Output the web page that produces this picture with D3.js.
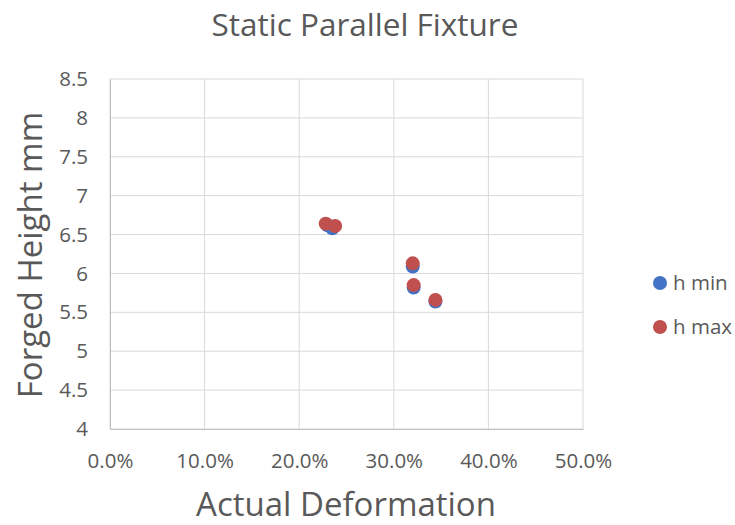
<!DOCTYPE html>
<html>
<head>
<meta charset="utf-8">
<script src="https://cdn.jsdelivr.net/npm/d3@7"></script>
<style>
  body { margin: 0; background: #fff; }
  text { font-family: "Open Sans", "Noto Sans", sans-serif; fill: #595959; }
</style>
</head>
<body>
<svg id="chart" width="735" height="525"></svg>
<script>
// Series values: deformation (fraction) and forged height (mm)
const hMinX = [0.230, 0.235, 0.320, 0.321, 0.344];
const hMinY = [6.62, 6.58, 6.09, 5.82, 5.64];
const hMaxX = [0.228, 0.238, 0.320, 0.321, 0.344];
const hMaxY = [6.64, 6.61, 6.13, 5.85, 5.66];
const seriesNames = ["h min", "h max"];
const seriesColors = ["#4472C4", "#C0504D"];
const xTicks = [0, 0.1, 0.2, 0.3, 0.4, 0.5];
const yTicks = [4, 4.5, 5, 5.5, 6, 6.5, 7, 7.5, 8, 8.5];

const svg = d3.select("#chart");
const m = { left: 110, right: 583, top: 79, bottom: 429 };

const x = d3.scaleLinear().domain([0, 0.5]).range([m.left, m.right]);
const y = d3.scaleLinear().domain([4, 8.5]).range([m.bottom, m.top]);

// Gridlines
svg.append("g").selectAll("line").data(yTicks).join("line")
  .attr("x1", m.left).attr("x2", m.right)
  .attr("y1", d => y(d)).attr("y2", d => y(d))
  .attr("stroke", "#d9d9d9").attr("stroke-width", 1);
svg.append("g").selectAll("line").data(xTicks).join("line")
  .attr("y1", m.top).attr("y2", m.bottom)
  .attr("x1", d => x(d)).attr("x2", d => x(d))
  .attr("stroke", "#d9d9d9").attr("stroke-width", 1);

// Axes
const xAxis = d3.axisBottom(x).tickValues(xTicks).tickFormat(d3.format(".1%")).tickSize(0).tickPadding(24);
const gx = svg.append("g").attr("transform", `translate(0,${m.bottom})`).call(xAxis);
gx.select(".domain").attr("stroke", "#bfbfbf");
gx.selectAll("text").attr("font-size", 20.5).style("fill", "#595959");

const yAxis = d3.axisLeft(y).tickValues(yTicks).tickFormat(d3.format("")).tickSize(0).tickPadding(22);
const gy = svg.append("g").attr("transform", `translate(${m.left},0)`).call(yAxis);
gy.select(".domain").attr("stroke", "#bfbfbf");
gy.selectAll("text").attr("font-size", 20.5).style("fill", "#595959");

// Points
const series = [
  { name: seriesNames[0], xs: hMinX, ys: hMinY, color: seriesColors[0] },
  { name: seriesNames[1], xs: hMaxX, ys: hMaxY, color: seriesColors[1] }
];
series.forEach(s => {
  svg.append("g").selectAll("circle").data(s.xs.map((v, i) => [v, s.ys[i]])).join("circle")
    .attr("cx", d => x(d[0])).attr("cy", d => y(d[1])).attr("r", 7)
    .attr("fill", s.color);
});

// Titles
svg.append("text").attr("x", 365).attr("y", 36).attr("text-anchor", "middle")
  .attr("font-size", 31.5).text("Static Parallel Fixture");
svg.append("text").attr("x", 346).attr("y", 516).attr("text-anchor", "middle")
  .attr("font-size", 33).text("Actual Deformation");
svg.append("text").attr("transform", "translate(42,255) rotate(-90)").attr("text-anchor", "middle")
  .attr("font-size", 33).text("Forged Height mm");

// Legend
const lg = svg.append("g").selectAll("g").data(series).join("g")
  .attr("transform", (d, i) => `translate(660,${283 + i * 44})`);
lg.append("circle").attr("r", 7).attr("fill", d => d.color);
lg.append("text").attr("x", 13).attr("y", 7).attr("font-size", 20.5).text(d => d.name);
</script>
</body>
</html>
